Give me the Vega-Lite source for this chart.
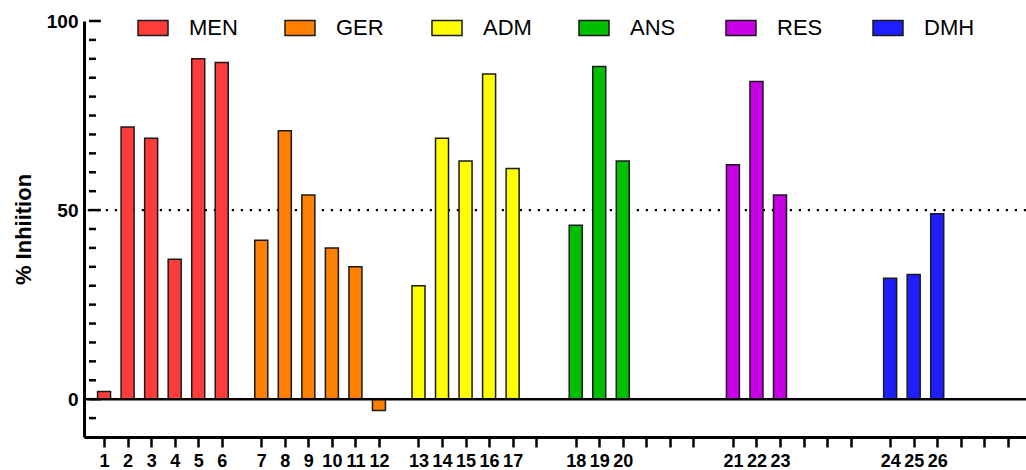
{
  "$schema": "https://vega.github.io/schema/vega-lite/v6.json",
  "width": 942,
  "height": 416,
  "autosize": {"type": "none"},
  "padding": {"left": 84, "top": 21, "right": 0, "bottom": 33},
  "background": "white",
  "config": {
    "view": {"stroke": null},
    "font": "Liberation Sans"
  },
  "encoding": {
    "y": {
      "field": "value",
      "type": "quantitative",
      "scale": {"domain": [-10, 100], "nice": false, "zero": false},
      "axis": {
        "title": "% Inhiition",
        "titleFont": "Liberation Sans",
        "titleFontSize": 22,
        "titleFontWeight": "bold",
        "titleColor": "black",
        "titlePadding": 11,
        "grid": false,
        "values": [0, 50, 100],
        "labelOverlap": false,
        "labelFont": "Liberation Sans",
        "labelFontWeight": "bold",
        "labelFontSize": 19,
        "labelColor": "black",
        "labelPadding": 6,
        "tickSize": 0,
        "domainColor": "black",
        "domainWidth": 3
      }
    }
  },
  "layer": [
    {
      "data": {"values": [{"value": 50}]},
      "mark": {"type": "rule", "color": "black", "strokeWidth": 2.2, "strokeDash": [2.2, 6.8]},
      "encoding": {}
    },
    {
      "data": {"values": [{"value": -5}, {"value": 5}, {"value": 10}, {"value": 15}, {"value": 20}, {"value": 25}, {"value": 30}, {"value": 35}, {"value": 40}, {"value": 45}, {"value": 55}, {"value": 60}, {"value": 65}, {"value": 70}, {"value": 75}, {"value": 80}, {"value": 85}, {"value": 90}, {"value": 95}]},
      "mark": {"type": "rule", "color": "black", "strokeWidth": 2.5},
      "encoding": {
        "x": {
          "datum": -16,
          "type": "quantitative",
          "scale": {"domain": [-16, 974], "nice": false, "zero": false},
          "axis": {
            "title": null,
            "grid": false,
            "values": [0, 25, 50, 75, 100, 125, 167, 192, 217, 242, 267, 292, 334, 359, 384, 409, 434, 459, 501, 526, 551, 576, 601, 626, 668, 693, 718, 743, 768, 793, 835, 860, 885, 910, 935, 960],
            "labelExpr": "{'0':'1','25':'2','50':'3','75':'4','100':'5','125':'6','167':'7','192':'8','217':'9','242':'10','267':'11','292':'12','334':'13','359':'14','384':'15','409':'16','434':'17','501':'18','526':'19','551':'20','668':'21','693':'22','718':'23','835':'24','860':'25','885':'26'}['' + datum.value] || ''",
            "labelOverlap": false,
            "labelFlush": false,
            "labelAngle": 0,
            "labelFont": "Liberation Sans",
            "labelFontWeight": "bold",
            "labelFontSize": 18,
            "labelColor": "black",
            "labelPadding": 5,
            "tickSize": 10,
            "tickWidth": 2.5,
            "tickColor": "black",
            "domainColor": "black",
            "domainWidth": 3
          }
        },
        "x2": {"datum": -8.6}
      }
    },
    {
      "data": {"values": [{"value": 0}, {"value": 50}, {"value": 100}]},
      "mark": {"type": "rule", "color": "black", "strokeWidth": 2.5},
      "encoding": {
        "x": {
          "datum": -16,
          "type": "quantitative",
          "scale": {"domain": [-16, 974], "nice": false, "zero": false},
          "axis": {
            "title": null,
            "grid": false,
            "values": [0, 25, 50, 75, 100, 125, 167, 192, 217, 242, 267, 292, 334, 359, 384, 409, 434, 459, 501, 526, 551, 576, 601, 626, 668, 693, 718, 743, 768, 793, 835, 860, 885, 910, 935, 960],
            "labelExpr": "{'0':'1','25':'2','50':'3','75':'4','100':'5','125':'6','167':'7','192':'8','217':'9','242':'10','267':'11','292':'12','334':'13','359':'14','384':'15','409':'16','434':'17','501':'18','526':'19','551':'20','668':'21','693':'22','718':'23','835':'24','860':'25','885':'26'}['' + datum.value] || ''",
            "labelOverlap": false,
            "labelFlush": false,
            "labelAngle": 0,
            "labelFont": "Liberation Sans",
            "labelFontWeight": "bold",
            "labelFontSize": 18,
            "labelColor": "black",
            "labelPadding": 5,
            "tickSize": 10,
            "tickWidth": 2.5,
            "tickColor": "black",
            "domainColor": "black",
            "domainWidth": 3
          }
        },
        "x2": {"datum": -3.4}
      }
    },
    {
      "data": {
        "values": [
          {"id": 1, "group": "MEN", "pos": 0, "value": 2},
          {"id": 2, "group": "MEN", "pos": 25, "value": 72},
          {"id": 3, "group": "MEN", "pos": 50, "value": 69},
          {"id": 4, "group": "MEN", "pos": 75, "value": 37},
          {"id": 5, "group": "MEN", "pos": 100, "value": 90},
          {"id": 6, "group": "MEN", "pos": 125, "value": 89},
          {"id": 7, "group": "GER", "pos": 167, "value": 42},
          {"id": 8, "group": "GER", "pos": 192, "value": 71},
          {"id": 9, "group": "GER", "pos": 217, "value": 54},
          {"id": 10, "group": "GER", "pos": 242, "value": 40},
          {"id": 11, "group": "GER", "pos": 267, "value": 35},
          {"id": 12, "group": "GER", "pos": 292, "value": -3},
          {"id": 13, "group": "ADM", "pos": 334, "value": 30},
          {"id": 14, "group": "ADM", "pos": 359, "value": 69},
          {"id": 15, "group": "ADM", "pos": 384, "value": 63},
          {"id": 16, "group": "ADM", "pos": 409, "value": 86},
          {"id": 17, "group": "ADM", "pos": 434, "value": 61},
          {"id": 18, "group": "ANS", "pos": 501, "value": 46},
          {"id": 19, "group": "ANS", "pos": 526, "value": 88},
          {"id": 20, "group": "ANS", "pos": 551, "value": 63},
          {"id": 21, "group": "RES", "pos": 668, "value": 62},
          {"id": 22, "group": "RES", "pos": 693, "value": 84},
          {"id": 23, "group": "RES", "pos": 718, "value": 54},
          {"id": 24, "group": "DMH", "pos": 835, "value": 32},
          {"id": 25, "group": "DMH", "pos": 860, "value": 33},
          {"id": 26, "group": "DMH", "pos": 885, "value": 49}
        ]
      },
      "mark": {"type": "bar", "size": 13, "stroke": "#1a1a1a", "strokeWidth": 1.5},
      "encoding": {
        "x": {
          "field": "pos",
          "type": "quantitative",
          "scale": {"domain": [-16, 974], "nice": false, "zero": false},
          "axis": {
            "title": null,
            "grid": false,
            "values": [0, 25, 50, 75, 100, 125, 167, 192, 217, 242, 267, 292, 334, 359, 384, 409, 434, 459, 501, 526, 551, 576, 601, 626, 668, 693, 718, 743, 768, 793, 835, 860, 885, 910, 935, 960],
            "labelExpr": "{'0':'1','25':'2','50':'3','75':'4','100':'5','125':'6','167':'7','192':'8','217':'9','242':'10','267':'11','292':'12','334':'13','359':'14','384':'15','409':'16','434':'17','501':'18','526':'19','551':'20','668':'21','693':'22','718':'23','835':'24','860':'25','885':'26'}['' + datum.value] || ''",
            "labelOverlap": false,
            "labelFlush": false,
            "labelAngle": 0,
            "labelFont": "Liberation Sans",
            "labelFontWeight": "bold",
            "labelFontSize": 18,
            "labelColor": "black",
            "labelPadding": 5,
            "tickSize": 10,
            "tickWidth": 2.5,
            "tickColor": "black",
            "domainColor": "black",
            "domainWidth": 3
          }
        },
        "color": {
          "field": "group",
          "type": "nominal",
          "scale": {
            "domain": ["MEN", "GER", "ADM", "ANS", "RES", "DMH"],
            "range": ["#FF3C3C", "#FF8000", "#FFFF00", "#00BF00", "#C800E6", "#1E1EFF"]
          },
          "legend": {
            "title": null,
            "orient": "none",
            "direction": "horizontal",
            "legendX": 53,
            "legendY": -9,
            "padding": 0,
            "gridAlign": "all",
            "columnPadding": 42,
            "symbolType": "M-1,-0.5H1V0.5H-1Z",
            "symbolSize": 900,
            "symbolStrokeColor": "#1a1a1a",
            "symbolStrokeWidth": 1.5,
            "symbolOpacity": 1,
            "labelOffset": 20,
            "labelFont": "Liberation Sans",
            "labelFontSize": 22,
            "labelColor": "black",
            "labelLimit": 200
          }
        }
      }
    },
    {
      "data": {"values": [{"value": 0}]},
      "mark": {"type": "rule", "color": "black", "strokeWidth": 2.5},
      "encoding": {}
    }
  ]
}
